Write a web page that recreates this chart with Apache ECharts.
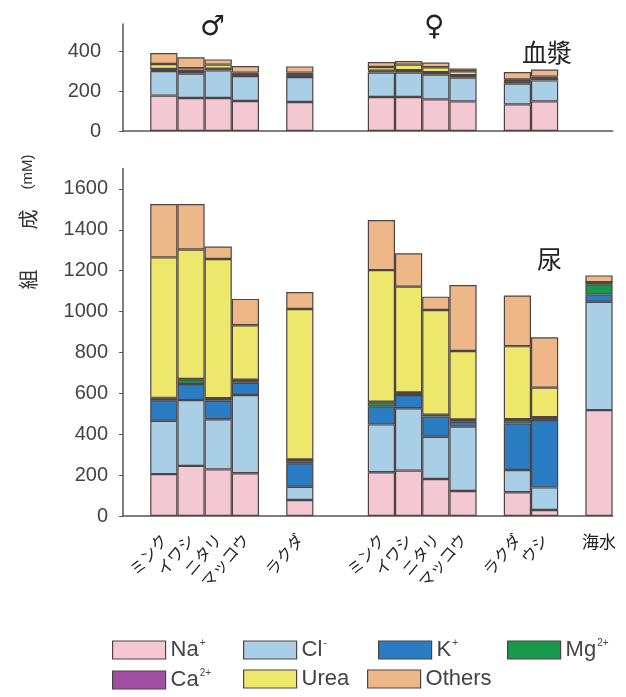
<!DOCTYPE html>
<html><head><meta charset="utf-8">
<script src="https://cdn.jsdelivr.net/npm/echarts@6/dist/echarts.min.js"></script>
<style>html,body{margin:0;padding:0;background:#fff}#c{width:626px;height:697px}</style>
</head><body><div id="c"></div>
<script>
// categories (leading empty slot + gaps)
const categories = ['', 'ミンク','イワシ','ニタリ','マッコウ','','ラクダ','','','ミンク','イワシ','ニタリ','マッコウ','','ラクダ','ウシ','','海水'];
const seriesNames = ['Na+','Cl-','K+','Mg2+','Ca2+','Urea','Others'];
// urine (bottom panel), mM
const urineNa     = [null,205,245,228,209,null, 78,null,null,214,222,181,122,null,116, 29,null,518];
const urineCl     = [null,261,322,245,383,null, 65,null,null,234,305,207,315,null,109,111,null,530];
const urineK      = [null,100, 79, 91, 60,null,115,null,null, 87, 65, 98, 24,null,228,330,null, 36];
const urineMg     = [null, 10, 22, 10, 13,null, 17,null,null, 22, 11,  8,  9,null, 18, 11,null, 50];
const urineCa     = [null,  2,  2,  2,  2,null,  2,null,null,  2,  2,  2,  2,null,  2,  2,null, 10];
const urineUrea   = [null,687,634,681,266,null,736,null,null,644,517,512,335,null,358,145,null,  0];
const urineOthers = [null,261,222, 61,129,null, 83,null,null,245,163, 65,323,null,248,246,null, 33];
// plasma (top panel), mM
const plasmaNa     = [null,177,165,165,150,null,145,null,null,170,170,158,148,null,133,148,null,null];
const plasmaCl     = [null,123,122,138,125,null,125,null,null,122,122,124,119,null,104,105,null,null];
const plasmaK      = [null,  6,  8,  5,  8,null,  8,null,null,  6,  8,  8,  8,null, 12, 10,null,null];
const plasmaMg     = [null,  2,  2,  2,  2,null,  2,null,null,  2,  2,  2,  2,null,  2,  2,null,null];
const plasmaCa     = [null,  2,  2,  2,  2,null,  2,null,null,  2,  2,  2,  2,null,  2,  2,null,null];
const plasmaUrea   = [null, 25, 15, 20,  5,null, 10,null,null, 18, 28, 25, 20,null,  5,  5,null,null];
const plasmaOthers = [null, 55, 55, 26, 33,null, 31,null,null, 25, 18, 23, 13,null, 37, 35,null,null];
const plasmaTicks = [0,200,400];
const urineTicks = [0,200,400,600,800,1000,1200,1400,1600];

const colors = ['#f4c8d3','#a9cfe6','#2a7dc2','#17984b','#a24ea3','#ede86c','#eeb787'];
const urine = [urineNa,urineCl,urineK,urineMg,urineCa,urineUrea,urineOthers];
const plasma = [plasmaNa,plasmaCl,plasmaK,plasmaMg,plasmaCa,plasmaUrea,plasmaOthers];
const legendRich = {
  'Na+': '{n|Na}{s|+}', 'Cl-': '{n|Cl}{s|-}', 'K+': '{n|K}{s|+}', 'Mg2+': '{n|Mg}{s|2+}',
  'Ca2+': '{n|Ca}{s|2+}', 'Urea': '{n|Urea}', 'Others': '{n|Others}'
};
const legendPos = [[107,633],[238,633],[373,633],[502,633],[107,663],[238,663],[362,663]];

const FONT = '"Liberation Sans", Arial, sans-serif';
const JFONT = '"Noto Sans CJK JP", sans-serif';
const axisCol = '#555';
const barBorder = {borderColor:'#4e4444', borderWidth:1.2};

const series = [];
seriesNames.forEach((n,i)=>{
  series.push({name:n, type:'bar', stack:'plasma', xAxisIndex:0, yAxisIndex:0, data:plasma[i],
    barWidth:'100%', itemStyle:Object.assign({color:colors[i]}, barBorder), animation:false});
  series.push({name:n, type:'bar', stack:'urine', xAxisIndex:1, yAxisIndex:1, data:urine[i],
    barWidth:'100%', itemStyle:Object.assign({color:colors[i]}, barBorder), animation:false});
});

const legends = seriesNames.map((n,i)=>({
  data:[n], left:legendPos[i][0], top:legendPos[i][1], orient:'horizontal',
  itemWidth:53, itemHeight:18, itemGap:0, icon:'rect',
  itemStyle:{borderColor:'#4e4444', borderWidth:1.2},
  formatter: name => legendRich[name],
  textStyle:{fontFamily:FONT, color:'#444', padding:[0,0,0,0], rich:{
    n:{fontSize:22, fontFamily:FONT, color:'#444', lineHeight:24},
    s:{fontSize:10, fontFamily:FONT, color:'#444', verticalAlign:'top', lineHeight:12, padding:[0,0,10,1]}
  }},
  selectedMode:false
}));

const chart = echarts.init(document.getElementById('c'), null, {renderer:'canvas'});
chart.setOption({
  backgroundColor:'#fff',
  animation:false,
  grid:[
    {left:123, top:24, width:489.6, height:107, outerBoundsMode:'none', containLabel:false},
    {left:123, top:168.5, width:489.6, height:347.5, outerBoundsMode:'none', containLabel:false}
  ],
  legend: legends,
  xAxis:[
    {type:'category', gridIndex:0, position:'bottom', data:categories, axisLine:{lineStyle:{color:axisCol, width:1.5}},
      axisTick:{show:false}, axisLabel:{show:false}},
    {type:'category', gridIndex:1, position:'bottom', data:categories, axisLine:{lineStyle:{color:axisCol, width:1.5}},
      axisTick:{show:false},
      axisLabel:{interval:0, rotate:50, margin:20, fontSize:16, fontFamily:JFONT, color:'#222',
        formatter: v => v==='海水' ? '' : v}},
    {type:'category', gridIndex:1, position:'bottom', offset:0, data:categories, axisLine:{show:false}, axisTick:{show:false},
      axisLabel:{interval:0, rotate:0, margin:17, fontSize:17, fontFamily:JFONT, color:'#222',
        formatter: v => v==='海水' ? v : ''}}
  ],
  yAxis:[
    {type:'value', gridIndex:0, min:0, max:535, splitLine:{show:false},
      axisLine:{show:true, lineStyle:{color:axisCol, width:1.5}},
      axisTick:{show:true, length:4, customValues:plasmaTicks, lineStyle:{color:axisCol}},
      axisLabel:{customValues:plasmaTicks, formatter: v => String(v), fontSize:20, fontFamily:FONT, color:'#444', margin:22}},
    {type:'value', gridIndex:1, min:0, max:1700, splitLine:{show:false},
      axisLine:{show:true, lineStyle:{color:axisCol, width:1.5}},
      axisTick:{show:true, length:4, customValues:urineTicks, lineStyle:{color:axisCol}},
      axisLabel:{customValues:urineTicks, formatter: v => String(v), fontSize:20, fontFamily:FONT, color:'#444', margin:15}}
  ],
  graphic:[
    {type:'text', left:200, top:14, style:{text:'♂', fontSize:28, fontFamily:'DejaVu Sans', fill:'#222'}},
    {type:'text', left:424, top:14, style:{text:'♀', fontSize:28, fontFamily:'DejaVu Sans', fill:'#222'}},
    {type:'text', left:522, top:40, style:{text:'血漿', fontSize:25, fontFamily:JFONT, fill:'#222'}},
    {type:'text', left:537, top:247, style:{text:'尿', fontSize:25, fontFamily:JFONT, fill:'#222'}},
    {type:'text', x:28, y:222, rotation:Math.PI/2,
      style:{text:'{a|組　　成　}{b|(mM)}', align:'center', verticalAlign:'middle',
        rich:{a:{fontSize:20, fontFamily:JFONT, fill:'#333'}, b:{fontSize:15, fontFamily:FONT, fill:'#333'}}}}
  ],
  series: series
});
</script></body></html>
